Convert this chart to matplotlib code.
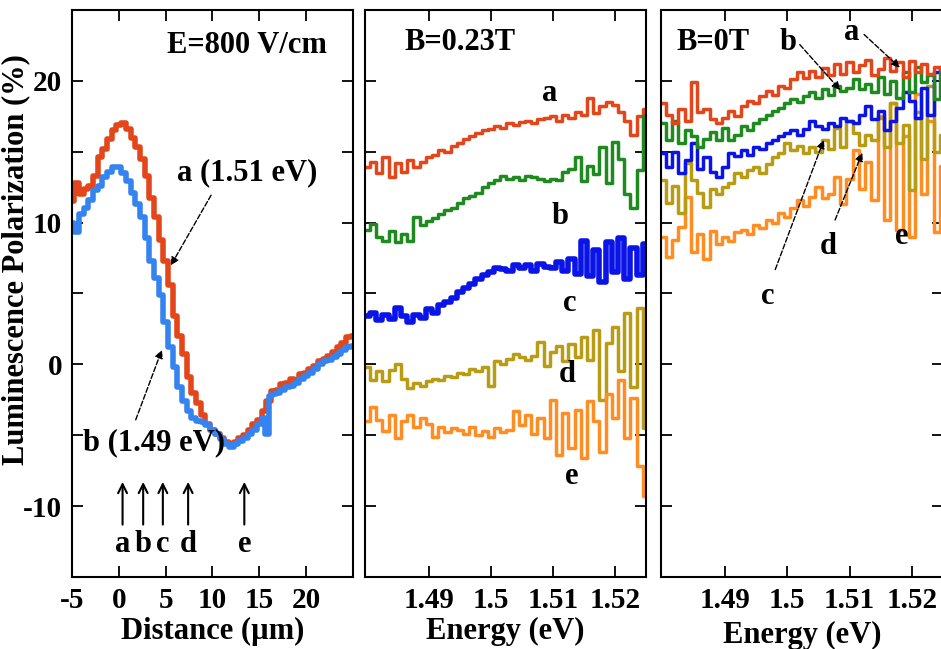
import matplotlib
matplotlib.use('Agg')
import matplotlib.pyplot as plt
from matplotlib.ticker import MultipleLocator

plt.rcParams['font.family'] = ['Liberation Serif', 'DejaVu Serif']
plt.rcParams['font.weight'] = 'bold'
plt.rcParams['axes.unicode_minus'] = False

# ---- left panel: polarization vs distance ----
dist_a = [-5.0, -4.5, -4.0, -3.5, -3.0, -2.5, -2.0, -1.5, -1.0, -0.5, 0.0, 0.5, 1.0, 1.5,
          2.0, 2.5, 3.0, 3.5, 4.0, 4.5, 5.0, 5.5, 6.0, 6.5, 7.0, 7.5, 8.0, 8.5, 9.0, 9.5,
          10.0, 10.5, 11.0, 11.5, 12.0, 12.5, 13.0, 13.5, 14.0, 14.5, 15.0, 15.5, 16.0,
          16.5, 17.0, 17.5, 18.0, 18.5, 19.0, 19.5, 20.0, 20.5, 21.0, 21.5, 22.0, 22.5,
          23.0, 23.5, 24.0, 24.5, 25.0]
pol_a = [11.5, 12.8, 12.0, 12.4, 12.6, 13.3, 14.6, 15.2, 15.9, 16.5, 16.9, 17.0, 16.6, 16.0,
         15.3, 14.5, 13.3, 11.7, 10.4, 8.8, 7.3, 5.6, 3.4, 2.0, 0.7, -0.9, -2.0, -2.7, -3.6, -4.2,
         -4.6, -4.9, -5.2, -5.5, -5.6, -5.5, -5.2, -5.0, -4.6, -4.2, -3.9, -3.3, -2.6,
         -1.9, -1.8, -1.4, -1.3, -1.0, -1.1, -0.7, -0.6, -0.3, -0.1, 0.2, 0.4, 0.6,
         0.9, 1.2, 1.5, 1.9, 2.0]
dist_b = [-5.0, -4.5, -4.0, -3.5, -3.0, -2.5, -2.0, -1.5, -1.0, -0.5, 0.0, 0.5, 1.0, 1.5,
          2.0, 2.5, 3.0, 3.5, 4.0, 4.5, 5.0, 5.5, 6.0, 6.5, 7.0, 7.5, 8.0, 8.5, 9.0, 9.5,
          10.0, 10.5, 11.0, 11.5, 12.0, 12.5, 13.0, 13.5, 14.0, 14.5, 15.0, 15.5, 15.8,
          16.2, 16.5, 17.0, 17.5, 18.0, 18.5, 19.0, 19.5, 20.0, 20.5, 21.0, 21.5, 22.0,
          22.5, 23.0, 23.5, 24.0, 24.5, 25.0]
pol_b = [10.0, 9.3, 10.6, 11.0, 11.6, 12.3, 12.6, 13.2, 13.6, 13.9, 13.9, 13.5, 12.9, 12.1,
         11.3, 10.4, 8.9, 7.3, 6.1, 4.9, 3.0, 1.2, -0.2, -1.6, -2.6, -3.3, -3.8, -4.0, -4.1, -4.3,
         -4.6, -4.9, -5.3, -5.6, -5.8, -5.6, -5.4, -5.2, -4.9, -4.6, -4.2, -3.8, -4.9,
         -2.2, -2.1, -2.0, -1.8, -1.6, -1.5, -1.3, -1.0, -0.8, -0.6, -0.3, 0.0, 0.2,
         0.3, 0.5, 0.7, 1.0, 1.2, 1.3]
arrow_pos = [0.4, 2.6, 4.7, 7.4, 13.4]
arrow_lbl = ['a', 'b', 'c', 'd', 'e']

# ---- energy spectra (shared energy axis) ----
energy = [1.480, 1.481, 1.482, 1.483, 1.484, 1.485, 1.486, 1.487, 1.488, 1.489,
          1.490, 1.491, 1.492, 1.493, 1.494, 1.495, 1.496, 1.497, 1.498, 1.499,
          1.500, 1.501, 1.502, 1.503, 1.504, 1.505, 1.506, 1.507, 1.508, 1.509,
          1.510, 1.511, 1.512, 1.513, 1.514, 1.515, 1.516, 1.517, 1.518, 1.519,
          1.520, 1.521, 1.522, 1.523, 1.524, 1.525]

# B = 0.23 T
mid_a = [13.9, 14.3, 13.5, 14.6, 13.2, 14.2, 13.6, 14.4, 13.9, 14.3,
         14.6, 14.8, 15.1, 15.0, 15.4, 15.6, 15.9, 16.1, 16.3, 16.5,
         16.6, 16.8, 16.7, 17.0, 16.9, 17.1, 17.2, 17.0, 17.3, 17.4,
         17.5, 17.2, 17.6, 17.4, 17.8, 17.6, 18.8, 17.7, 18.2, 18.5,
         18.3, 17.8, 17.2, 16.2, 17.5, 18.0]
mid_b = [9.5, 9.9, 9.0, 8.7, 9.4, 8.6, 9.2, 8.7, 10.4, 9.8,
         10.1, 10.3, 10.6, 10.9, 11.0, 11.4, 11.7, 11.9, 12.1, 12.5,
         12.8, 13.0, 13.3, 13.1, 13.2, 13.0, 13.3, 13.2, 13.1, 12.9,
         13.1, 13.0, 13.6, 13.8, 14.6, 12.9, 14.0, 13.4, 15.3, 12.8,
         15.7, 14.5, 12.0, 11.0, 13.7, 17.5]
mid_c = [3.4, 3.6, 3.1, 3.5, 3.2, 4.0, 3.4, 3.0, 3.5, 3.3,
         3.9, 3.6, 4.2, 4.4, 4.7, 5.1, 5.4, 5.7, 6.0, 6.3,
         6.5, 6.8, 6.7, 6.6, 7.0, 6.8, 7.0, 6.6, 7.1, 6.9,
         6.8, 7.2, 6.6, 7.4, 6.4, 8.7, 6.2, 8.1, 5.8, 8.6,
         6.5, 8.9, 6.0, 8.2, 6.3, 8.5]
mid_d = [-0.2, -1.1, -0.5, -1.2, -0.4, 0.0, -1.0, -1.7, -1.3, -1.5,
         -1.2, -1.0, -1.1, -0.8, -0.9, -0.6, -0.7, -0.3, -0.5, -0.2,
         -1.5, 0.2, 0.0, 0.4, 0.7, 0.5, 0.3, 0.6, 1.6, -0.1,
         0.9, 1.3, 0.2, 1.4, 0.5, 1.9, 0.3, 2.4, -2.5, 1.5,
         2.6, -0.5, 3.6, -1.6, 4.0, -4.5]
mid_e = [-4.0, -3.0, -3.9, -4.7, -3.6, -5.2, -4.0, -3.6, -4.4, -3.8,
         -4.2, -5.1, -4.4, -4.8, -4.5, -4.6, -4.9, -4.4, -5.0, -4.7,
         -5.1, -4.5, -4.8, -4.6, -3.3, -4.3, -3.6, -4.9, -3.8, -5.2,
         -2.5, -6.4, -3.4, -5.9, -3.2, -6.6, -2.6, -4.0, -6.2, -2.1,
         -3.8, -1.1, -5.2, -2.4, -7.2, -9.3]

# B = 0 T
zero_a = [18.4, 17.6, 17.0, 18.0, 17.2, 19.9, 17.8, 18.0, 17.3, 17.0,
          17.4, 17.9, 17.5, 18.2, 18.6, 18.4, 18.9, 19.3, 19.0, 19.6,
          19.5, 20.1, 20.6, 20.2, 20.7, 20.3, 20.9, 20.4, 21.2, 20.5,
          21.3, 20.6, 21.1, 21.5, 20.4, 20.8, 21.6, 20.7, 21.3, 20.3,
          21.4, 20.6, 21.2, 20.5, 21.0, 20.8]
zero_b = [17.0, 15.8, 17.2, 15.6, 16.5, 16.1, 15.3, 15.9, 16.4, 15.8,
          16.7, 15.8, 16.2, 16.8, 16.5, 17.0, 17.3, 17.6, 17.9, 18.1,
          18.4, 18.7, 18.5, 18.9, 19.2, 18.8, 19.4, 19.0, 19.6, 19.3,
          19.5, 20.1, 19.4, 19.8, 19.2, 20.3, 19.1, 20.0, 18.8, 20.6,
          19.2, 21.0, 19.9, 20.4, 18.7, 20.9]
zero_c = [14.9, 13.9, 15.0, 13.5, 14.4, 15.6, 13.8, 14.6, 13.6, 13.2,
          13.9, 14.9, 14.7, 15.1, 14.8, 15.3, 15.2, 15.6, 15.8, 16.1,
          16.3, 16.5, 16.2, 16.6, 17.2, 16.8, 16.6, 17.0, 16.8, 17.4,
          17.2, 17.0, 17.6, 18.2, 17.3, 17.9, 16.5, 17.2, 18.1, 19.2,
          18.6, 17.4, 19.5, 17.6, 20.6, 21.0]
zero_d = [13.0, 11.4, 12.6, 10.7, 14.2, 13.0, 12.1, 11.1, 12.4, 12.0,
          12.5, 12.8, 13.5, 13.2, 13.7, 13.9, 13.5, 14.1, 14.6, 14.9,
          15.6, 15.1, 15.4, 14.9, 15.3, 15.0, 15.8, 15.2, 16.7, 15.3,
          17.2, 16.3, 15.5, 16.2, 15.8, 17.4, 15.3, 18.4, 15.6, 16.9,
          12.3, 17.8, 14.5, 19.6, 15.0, 16.2]
zero_e = [9.0, 7.6, 8.8, 9.7, 11.8, 7.9, 9.2, 7.4, 9.4, 8.5,
          9.0, 8.7, 9.3, 9.5, 9.2, 9.8, 9.6, 10.2, 10.0, 10.7,
          10.4, 11.0, 11.6, 11.2, 11.8, 12.5, 11.7, 12.0, 13.2, 11.3,
          13.1, 15.1, 12.4, 14.3, 11.6, 17.5, 10.2, 18.4, 9.5, 16.1,
          9.0, 19.1, 12.0, 17.2, 9.3, 14.0]

energy_ticks = [1.49, 1.50, 1.51, 1.52]
energy_tick_labels = ['1.49', '1.5', '1.51', '1.52']

RED = '#e2461a'
LBLUE = '#3583ef'
GREEN = '#1f8a1f'
BLUE = '#0a14e6'
OLIVE = '#b89c14'
ORANGE = '#ff8d22'


def style_axes(ax):
    ax.set_ylim(-15, 25)
    ax.yaxis.set_major_locator(MultipleLocator(10))
    ax.yaxis.set_minor_locator(MultipleLocator(5))
    ax.tick_params(which='both', direction='in', top=True, right=True,
                   length=8, width=1.3, labelsize=21, pad=7)
    for s in ax.spines.values():
        s.set_linewidth(1.5)


fig = plt.figure(figsize=(9.41, 6.49), dpi=100)

# left panel
ax1 = fig.add_axes([0.0765, 0.111, 0.2986, 0.8737])
style_axes(ax1)
ax1.plot(dist_a, pol_a, color=RED, lw=4, drawstyle='steps-mid')
ax1.plot(dist_b, pol_b, color=LBLUE, lw=4, drawstyle='steps-mid')
ax1.set_xlim(-5, 25)
ax1.set_xticks([-5, 0, 5, 10, 15, 20])
ax1.set_xlabel('Distance (µm)', fontsize=22, fontweight='bold', labelpad=2)
ax1.set_ylabel('Luminescence Polarization (%)', fontsize=22, fontweight='bold')
ax1.yaxis.set_label_coords(-0.15, 0.56)
ax1.text(13.7, 22.5, 'E=800 V/cm', fontsize=22, ha='center', va='center')
ax1.text(13.7, 13.5, 'a (1.51 eV)', fontsize=22, ha='center', va='center')
ax1.annotate('', xy=(5.4, 6.8), xytext=(10.0, 12.1),
             arrowprops=dict(arrowstyle='-|>', lw=1, ls='--', color='black', mutation_scale=12))
ax1.text(3.8, -5.5, 'b (1.49 eV)', fontsize=22, ha='center', va='center')
ax1.annotate('', xy=(4.7, 1.2), xytext=(1.7, -4.1),
             arrowprops=dict(arrowstyle='-|>', lw=1, ls='--', color='black', mutation_scale=12))
for xp, lb in zip(arrow_pos, arrow_lbl):
    ax1.annotate('', xy=(xp, -8.1), xytext=(xp, -11.5),
                 arrowprops=dict(arrowstyle='->', lw=1.5, color='black', mutation_scale=16))
    ax1.text(xp, -12.7, lb, fontsize=22, ha='center', va='center')

# middle panel, B = 0.23 T
ax2 = fig.add_axes([0.3879, 0.111, 0.2986, 0.8737])
style_axes(ax2)
for vals, col, w in [(mid_a, RED, 2.5), (mid_b, GREEN, 2.5), (mid_c, BLUE, 4),
                     (mid_d, OLIVE, 2.5), (mid_e, ORANGE, 2.5)]:
    ax2.plot(energy, vals, color=col, lw=w, drawstyle='steps-mid')
ax2.set_xlim(1.4797, 1.5250)
ax2.set_xticks(energy_ticks, labels=energy_tick_labels)
ax2.tick_params(labelleft=False)
ax2.set_xlabel('Energy (eV)', fontsize=22, fontweight='bold', labelpad=2)
ax2.text(1.495, 22.7, 'B=0.23T', fontsize=22, ha='center', va='center')
for xp, yp, lb in [(1.5095, 19.1, 'a'), (1.5111, 10.4, 'b'), (1.5127, 4.3, 'c'),
                   (1.5123, -0.7, 'd'), (1.5131, -7.9, 'e')]:
    ax2.text(xp, yp, lb, fontsize=22, ha='center', va='center')

# right panel, B = 0 T
ax3 = fig.add_axes([0.7024, 0.111, 0.2997, 0.8737])
style_axes(ax3)
for vals, col in [(zero_a, RED), (zero_b, GREEN), (zero_c, BLUE),
                  (zero_d, OLIVE), (zero_e, ORANGE)][::-1]:
    ax3.plot(energy, vals, color=col, lw=2.5, drawstyle='steps-mid')
ax3.set_xlim(1.4797, 1.5250)
ax3.set_xticks(energy_ticks, labels=energy_tick_labels)
ax3.tick_params(labelleft=False)
ax3.set_xlabel('Energy (eV)', fontsize=22, fontweight='bold', labelpad=5)
ax3.text(1.488, 22.7, 'B=0T', fontsize=22, ha='center', va='center')
labels_0T = [('a', (1.5104, 23.4), (1.5184, 20.8)),
             ('b', (1.5001, 22.7), (1.5088, 19.2)),
             ('c', (1.4969, 4.8), (1.5060, 16.0)),
             ('d', (1.5065, 8.3), (1.5122, 15.1))]
for lb, (tx, ty), (hx, hy) in labels_0T:
    ax3.text(tx, ty, lb, fontsize=22, ha='center', va='center')
    if lb in ('a', 'b'):
        start = (tx + 0.0016, ty)
    else:
        start = (tx + 0.0010, ty + 1.7)
    ax3.annotate('', xy=(hx, hy), xytext=start,
                 arrowprops=dict(arrowstyle='-|>', lw=1, ls='--', color='black', mutation_scale=12))
ax3.text(1.5184, 9.0, 'e', fontsize=22, ha='center', va='center')

fig.savefig('out.png', dpi=100)
